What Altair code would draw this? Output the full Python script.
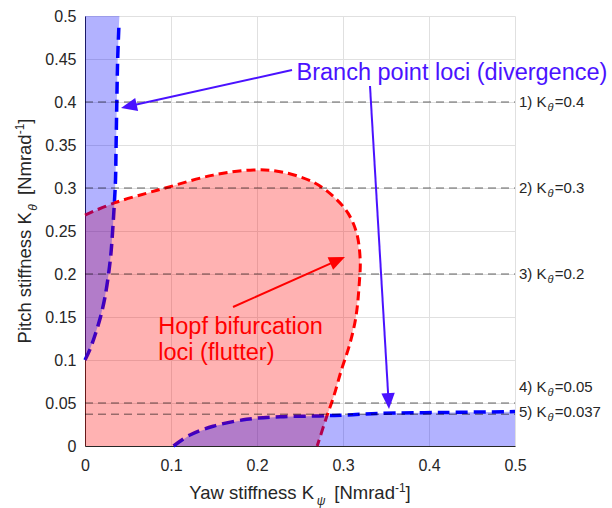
import math

import altair as alt
import pandas as pd

# ---- stability boundaries in the (yaw stiffness K_psi, pitch stiffness K_theta) plane ----
# branch point locus (divergence), left branch
branch_left_kpsi = [0.000, 0.006, 0.012, 0.018, 0.023, 0.027, 0.030, 0.032, 0.034, 0.0355, 0.036, 0.037, 0.038, 0.0395]
branch_left_ktheta = [0.100, 0.113, 0.130, 0.150, 0.172, 0.197, 0.222, 0.248, 0.280, 0.310, 0.340, 0.400, 0.450, 0.490]

# branch point locus (divergence), lower branch
branch_low_kpsi = [0.103, 0.122, 0.149, 0.188, 0.227, 0.273, 0.304, 0.343, 0.420, 0.500]
branch_low_ktheta = [0.000, 0.0128, 0.023, 0.031, 0.034, 0.035, 0.036, 0.038, 0.039, 0.040]

# Hopf bifurcation locus (flutter)
hopf_kpsi = [0.000, 0.035, 0.072, 0.099, 0.149, 0.196, 0.227, 0.265, 0.289, 0.306,
             0.316, 0.320, 0.319, 0.315, 0.308, 0.298, 0.289, 0.281, 0.270]
hopf_ktheta = [0.2686, 0.283, 0.294, 0.3016, 0.315, 0.321, 0.319, 0.307, 0.290, 0.2705,
               0.247, 0.216, 0.190, 0.150, 0.119, 0.088, 0.057, 0.034, 0.000]

# constant pitch stiffness cases
case_ktheta = [0.4, 0.3, 0.2, 0.05, 0.037]
case_names = ["1)", "2)", "3)", "4)", "5)"]
case_values = ["=0.4", "=0.3", "=0.2", "=0.05", "=0.037"]
case_label_ktheta = [0.4, 0.3, 0.2, 0.0686, 0.0395]

# tick values
x_ticks = [0, 0.1, 0.2, 0.3, 0.4, 0.5]
y_ticks = [0, 0.05, 0.1, 0.15, 0.2, 0.25, 0.3, 0.35, 0.4, 0.45, 0.5]

# annotation arrows: tail -> tip
arrow_tail_kpsi = [0.2407, 0.3314, 0.1721]
arrow_tail_ktheta = [0.4372, 0.4186, 0.1616]
arrow_tip_kpsi = [0.0419, 0.3535, 0.3023]
arrow_tip_ktheta = [0.3930, 0.0430, 0.2198]

BLUE = "#0000FF"
RED = "#FF0000"
ANNOT_BLUE = "#4A12FF"
TEXT = "#262626"
FONT = "Liberation Sans"

PLOT = 430                 # plot area side in px
PPU = PLOT / 0.5           # px per stiffness unit (both axes)

arrow_colors = [ANNOT_BLUE, ANNOT_BLUE, RED]

# Arial / Liberation Sans advance widths (1/1000 em)
ADV = {" ": 278, "(": 333, ")": 333, "-": 333, ".": 278, "=": 584, "[": 278, "]": 278,
       "K": 667, "N": 722, "P": 667, "Y": 667, "a": 556, "c": 500, "d": 556, "e": 556,
       "f": 278, "h": 556, "i": 222, "m": 833, "n": 556, "r": 333, "s": 500, "t": 278,
       "w": 722, "\u03b8": 560, "\u03c8": 700}


def text_width(s, size):
    return sum(ADV.get(ch, 556) for ch in s) / 1000.0 * size


def px_to_data(px, py):
    """Pixel position relative to the plot's top-left corner -> data coordinates."""
    return px / PPU, (PLOT - py) / PPU


xscale = alt.Scale(domain=[0, 0.5], nice=False, zero=False)
yscale = alt.Scale(domain=[0, 0.5], nice=False, zero=False)

x_axis = alt.Axis(values=x_ticks, format="~g", title=None, grid=True, gridColor="#e0e0e0",
                  ticks=False, domainColor=TEXT, domainWidth=1, labelFont=FONT,
                  labelFontSize=16, labelColor=TEXT, labelPadding=11, labelFlush=False,
                  labelOverlap=False)
y_axis = alt.Axis(values=y_ticks, format="~g", title=None, grid=True, gridColor="#e0e0e0",
                  ticks=False, domainColor=TEXT, domainWidth=1, labelFont=FONT,
                  labelFontSize=16, labelColor=TEXT, labelPadding=9, labelFlush=False,
                  labelOverlap=False)


def X(field="x"):
    return alt.X(f"{field}:Q", scale=xscale, axis=x_axis)


def Y(field="y"):
    return alt.Y(f"{field}:Q", scale=yscale, axis=y_axis)


def path_df(xs, ys):
    return pd.DataFrame({"x": list(xs), "y": list(ys), "i": list(range(len(xs)))})


def dashed(xs, ys, color, dash, width):
    return alt.Chart(path_df(xs, ys)).mark_line(
        color=color, strokeWidth=width, strokeDash=dash, interpolate="catmull-rom",
        strokeCap="butt", clip=False
    ).encode(x=X(), y=Y(), order=alt.Order("i:Q"))


def region(xs, ys, color):
    return alt.Chart(path_df(xs, ys)).mark_line(
        fill=color, fillOpacity=0.3, strokeOpacity=0, strokeWidth=0,
        interpolate="linear-closed"
    ).encode(x=X(), y=Y(), order=alt.Order("i:Q"))


# boundary lines (drawn first; the translucent regions tint them where they overlap)
blue_left_line = dashed(branch_left_kpsi, branch_left_ktheta, BLUE, [12, 6], 3.5)
blue_low_line = dashed(branch_low_kpsi, branch_low_ktheta, BLUE, [12, 6], 3.5)
red_line = dashed(hopf_kpsi, hopf_ktheta, RED, [9, 5], 3)

# unstable regions
red_region = region(hopf_kpsi + [0.0], hopf_ktheta + [0.0], RED)
blue_left_region = region(branch_left_kpsi + [0.040, 0.0], branch_left_ktheta + [0.5, 0.5], BLUE)
blue_low_region = region(branch_low_kpsi + [0.5], branch_low_ktheta + [0.0], BLUE)

# constant K_theta cases
cases = pd.DataFrame({"y": case_ktheta, "x0": [0.0] * 5, "x1": [0.5] * 5})
case_lines = alt.Chart(cases).mark_rule(
    color="#000000", strokeOpacity=0.6, strokeWidth=1, strokeDash=[8, 5]
).encode(x=X("x0"), x2="x1", y=Y())

label_size = 15
name_w = text_width("1) K", label_size)
theta_w = text_width("\u03b8", 11)
lx0 = 434 / PPU
labels = pd.DataFrame({
    "name": [n + " K" for n in case_names],
    "val": case_values,
    "y": case_label_ktheta,
    "x_name": [lx0] * 5,
    "x_th": [lx0 + (name_w + 1) / PPU] * 5,
    "x_val": [lx0 + (name_w + 1 + theta_w + 1) / PPU] * 5,
    "th": ["\u03b8"] * 5,
})
lab_base = alt.Chart(labels)
lab_name = lab_base.mark_text(font=FONT, fontSize=label_size, color=TEXT, align="left",
                              baseline="middle").encode(x=X("x_name"), y=Y(), text="name:N")
lab_th = lab_base.mark_text(font=FONT, fontSize=11, fontStyle="italic", color=TEXT, align="left",
                            baseline="middle", dy=6).encode(x=X("x_th"), y=Y(), text="th:N")
lab_val = lab_base.mark_text(font=FONT, fontSize=label_size, color=TEXT, align="left",
                             baseline="middle").encode(x=X("x_val"), y=Y(), text="val:N")

# arrows: shaft + filled head
rows = []
for tx, ty, hx, hy, c in zip(arrow_tail_kpsi, arrow_tail_ktheta, arrow_tip_kpsi,
                             arrow_tip_ktheta, arrow_colors):
    dxp = (hx - tx) * PPU
    dyp = -(hy - ty) * PPU
    length = math.hypot(dxp, dyp)
    ux, uy = dxp / length, dyp / length
    back = 10.0
    rows.append({
        "x": tx, "y": ty,
        "ex": hx - ux * back / PPU, "ey": hy + uy * back / PPU,
        "hx": hx, "hy": hy,
        "ang": math.degrees(math.atan2(dxp, -dyp)) % 360,
        "c": c,
    })
arrows = pd.DataFrame(rows)
shafts = alt.Chart(arrows).mark_rule(strokeWidth=2).encode(
    x=X(), y=Y(), x2="ex", y2="ey", color=alt.Color("c:N", scale=None))
heads = alt.Chart(arrows).mark_point(
    shape="M0,0L0.42,1L-0.42,1Z", filled=True, size=1024, opacity=1, strokeWidth=0
).encode(x=X("hx"), y=Y("hy"), angle=alt.Angle("ang:Q", scale=None),
         color=alt.Color("c:N", scale=None))

# annotation texts
branch_text = alt.Chart(pd.DataFrame({"x": [0.4267], "y": [0.4337],
                                      "t": ["Branch point loci (divergence)"]})).mark_text(
    font=FONT, fontSize=23.5, color=ANNOT_BLUE, align="center", baseline="middle"
).encode(x=X(), y=Y(), text="t:N")
hopf_text = alt.Chart(pd.DataFrame({"x": [0.0852, 0.0852], "y": [0.1387, 0.1078],
                                    "t": ["Hopf bifurcation", "loci (flutter)"]})).mark_text(
    font=FONT, fontSize=23.5, color=RED, align="left", baseline="middle"
).encode(x=X(), y=Y(), text="t:N")

# axis titles with sub/superscripts, assembled from pieces
MAIN = 18.5
SMALL = 12


def title_pieces(head, greek):
    # (text, font size, baseline shift, italic, extra gap after)
    return [(head, MAIN, 0, False, 1), (greek, SMALL, 6, True, text_width(" ", MAIN) + 4),
            ("[Nmrad", MAIN, 0, False, 0), ("-1", SMALL, -7, False, 0), ("]", MAIN, 0, False, 0)]


def title_layers(pieces, horizontal):
    total = sum(text_width(t, s) + g for t, s, _, _, g in pieces)
    pos = -total / 2.0
    reg, ital = [], []
    for t, s, shift, it, gap in pieces:
        if horizontal:
            px, py = PLOT / 2 + pos, 483 + shift
        else:
            px, py = -54 + shift, PLOT / 2 - pos
        dx, dy = px_to_data(px, py)
        (ital if it else reg).append({"t": t, "s": s, "x": dx, "y": dy})
        pos += text_width(t, s) + gap
    angle = 0 if horizontal else 270
    out = []
    for recs, style in ((reg, "normal"), (ital, "italic")):
        out.append(alt.Chart(pd.DataFrame(recs)).mark_text(
            font=FONT, fontStyle=style, color=TEXT, align="left", baseline="alphabetic",
            angle=angle
        ).encode(x=X(), y=Y(), text="t:N", size=alt.Size("s:Q", scale=None)))
    return out


x_title = title_layers(title_pieces("Yaw stiffness K", "\u03c8"), True)
y_title = title_layers(title_pieces("Pitch stiffness K", "\u03b8"), False)

chart = alt.layer(
    blue_left_line, blue_low_line, red_line,
    red_region, blue_left_region, blue_low_region,
    case_lines, lab_name, lab_th, lab_val,
    shafts, heads, branch_text, hopf_text,
    *x_title, *y_title,
).properties(
    width=PLOT, height=PLOT,
    autosize=alt.AutoSizeParams(type="none"),
    padding={"left": 85, "top": 16, "right": 97, "bottom": 62},
    background="white",
).configure_view(strokeWidth=0)

chart.save("out.html", embed_options={"renderer": "svg", "actions": False})
